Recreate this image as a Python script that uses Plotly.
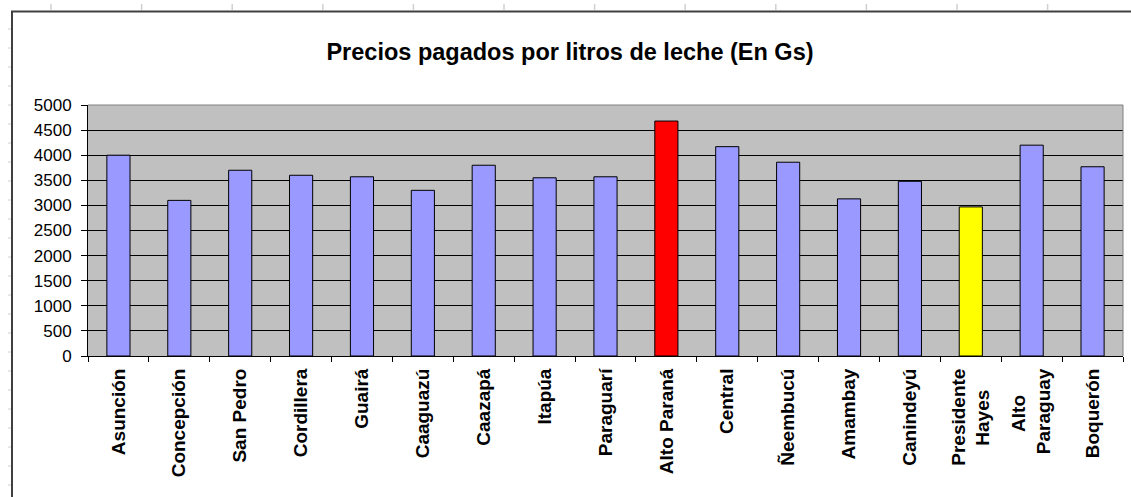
import plotly.graph_objects as go

departamentos = ["Asunción", "Concepción", "San Pedro", "Cordillera", "Guairá",
                 "Caaguazú", "Caazapá", "Itapúa", "Paraguarí", "Alto Paraná",
                 "Central", "Ñeembucú", "Amambay", "Canindeyú", "Presidente Hayes",
                 "Alto Paraguay", "Boquerón"]
precios = [4000, 3100, 3700, 3600, 3570, 3300, 3800, 3550, 3570, 4680,
           4170, 3860, 3130, 3480, 2970, 4200, 3770]
tick_labels = ["Asunción", "Concepción", "San Pedro", "Cordillera", "Guairá",
               "Caaguazú", "Caazapá", "Itapúa", "Paraguarí", "Alto Paraná",
               "Central", "Ñeembucú", "Amambay", "Canindeyú",
               "Presidente<br>Hayes" + "\u00a0" * 4,
               "Alto" + "\u00a0" * 5 + "<br>Paraguay",
               "Boquerón"]
y_ticks = [0, 500, 1000, 1500, 2000, 2500, 3000, 3500, 4000, 4500, 5000]

colors = []
for d in departamentos:
    if d == "Alto Paraná":
        colors.append("#FF0000")
    elif d == "Presidente Hayes":
        colors.append("#FFFF00")
    else:
        colors.append("#9999FF")

FONT = "Liberation Sans, Arial, sans-serif"
L, R, T, B = 88, 8, 105, 141
PW, PH = 1131 - L - R, 497 - T - B


def px(x):
    return (x - L) / PW


def py(y):
    return (497 - B - y) / PH


fig = go.Figure()
fig.add_trace(go.Bar(
    x=departamentos, y=precios,
    marker=dict(color=colors, line=dict(color="#000000", width=1)),
    hoverinfo="x+y",
))

shapes = []
# spreadsheet gridline remnants outside the chart
for i in range(12):
    xp = 51 + i * 90.6
    shapes.append(dict(type="line", xref="paper", yref="paper",
                       x0=px(xp), x1=px(xp), y0=py(4), y1=py(10),
                       line=dict(color="#D0D0D0", width=1.5)))
for j in range(25):
    yp = 29 + j * 19
    shapes.append(dict(type="line", xref="paper", yref="paper",
                       x0=px(8), x1=px(11), y0=py(yp), y1=py(yp),
                       line=dict(color="#D0D0D0", width=1)))
# chart area border (top and left)
shapes.append(dict(type="line", xref="paper", yref="paper",
                   x0=px(11), x1=px(1140), y0=py(11.5), y1=py(11.5),
                   line=dict(color="#404040", width=2)))
shapes.append(dict(type="line", xref="paper", yref="paper",
                   x0=px(12), x1=px(12), y0=py(11), y1=py(505),
                   line=dict(color="#404040", width=2)))
# plot area border top/right grey
shapes.append(dict(type="line", xref="paper", yref="paper",
                   x0=0, x1=1, y0=1, y1=1,
                   line=dict(color="#808080", width=1), layer="above"))
shapes.append(dict(type="line", xref="paper", yref="paper",
                   x0=1, x1=1, y0=0, y1=1,
                   line=dict(color="#808080", width=1), layer="above"))

fig.update_layout(
    width=1131, height=497,
    margin=dict(l=L, r=R, t=T, b=B, pad=0),
    paper_bgcolor="#FFFFFF",
    plot_bgcolor="#C0C0C0",
    bargap=0.62,
    showlegend=False,
    title=dict(text="<b>Precios pagados por litros de leche (En Gs)</b>",
               x=570 / 1131, xref="container", xanchor="center",
               y=1 - 52 / 497, yref="container", yanchor="middle",
               font=dict(family=FONT, size=23.5, color="#000000")),
    font=dict(family=FONT, color="#000000"),
    shapes=shapes,
)
fig.update_xaxes(
    tickmode="array", tickvals=departamentos, ticktext=tick_labels,
    tickangle=-90, tickson="boundaries", ticks="outside", ticklen=5,
    tickcolor="#000000", tickwidth=1,
    tickfont=dict(family=FONT, size=19, color="#000000", weight="bold"),
    showline=True, linecolor="#000000", linewidth=1,
    showgrid=False, zeroline=False, mirror=False, ticklabelstandoff=4,
)
fig.update_yaxes(
    range=[0, 5000], tickmode="array", tickvals=y_ticks,
    ticks="outside", ticklen=6, tickcolor="#000000", tickwidth=1,
    tickfont=dict(family=FONT, size=17, color="#000000"),
    showline=True, linecolor="#000000", linewidth=1,
    showgrid=True, gridcolor="#000000", gridwidth=1,
    zeroline=False, ticklabelstandoff=6,
)

fig.write_html("out.html", config={"displayModeBar": False},
               post_script="document.body.style.margin='0';")
